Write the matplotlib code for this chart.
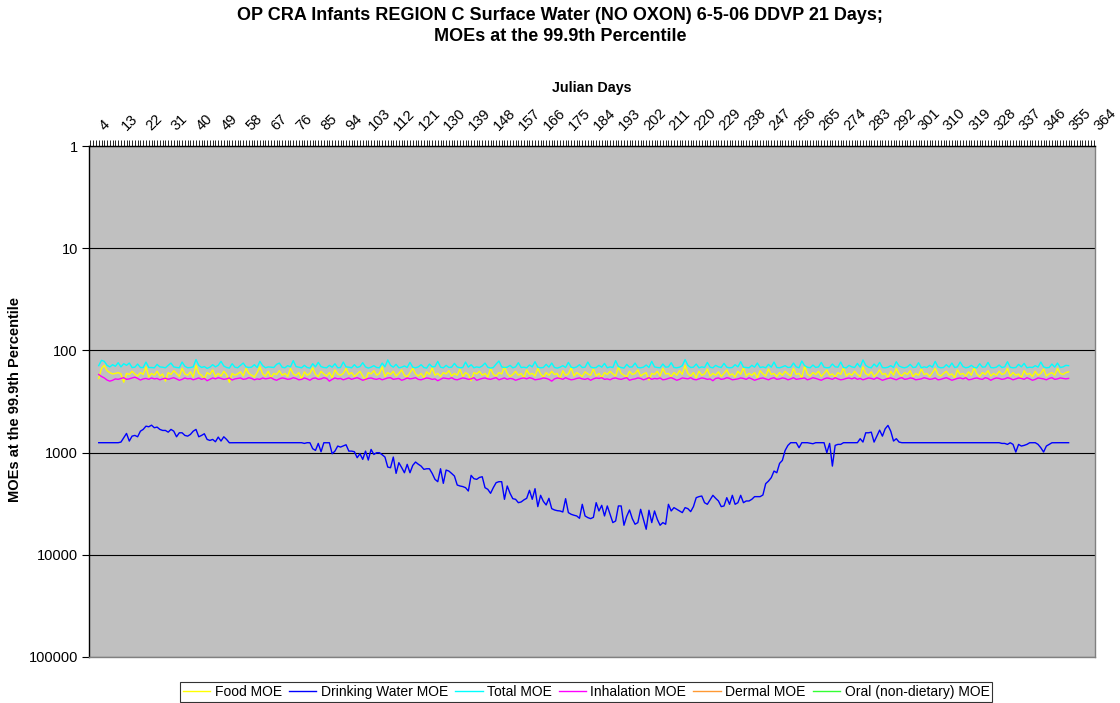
import numpy as np
import matplotlib
matplotlib.use("Agg")
import matplotlib.pyplot as plt
import matplotlib.transforms as mtransforms
from matplotlib.ticker import FixedLocator, NullLocator

plt.rcParams["font.family"] = ["Liberation Sans", "DejaVu Sans"]

# first Julian day that carries a value (series run one value per day)
FIRST_DAY = 7
TICK_DAYS = [4, 13, 22, 31, 40, 49, 58, 67, 76, 85, 94, 103, 112, 121, 130, 139,
             148, 157, 166, 175, 184, 193, 202, 211, 220, 229, 238, 247, 256, 265,
             274, 283, 292, 301, 310, 319, 328, 337, 346, 355, 364]
Y_TICKS = [1, 10, 100, 1000, 10000, 100000]
Y_TICK_LABELS = ["1", "10", "100", "1000", "10000", "100000"]

food_moe = [
    188, 150, 140, 158, 165, 170, 168, 165, 170, 205, 168, 172, 160, 170, 178, 165, 172, 145, 182, 168, 175, 160, 178, 170, 200,
    165, 172, 158, 168, 180, 150, 170, 175, 162, 182, 140, 168, 175, 190, 165, 172, 155, 180, 168, 178, 160, 172, 205, 168, 175,
    170, 162, 178, 150, 168, 175, 182, 165, 145, 170, 178, 160, 185, 168, 172, 158, 175, 168, 180, 150, 170, 176, 165, 190, 162,
    175, 168, 148, 172, 180, 160, 170, 178, 165, 185, 155, 170, 175, 168, 150, 172, 165, 180, 170, 160, 178, 195, 165, 170, 158,
    175, 168, 145, 180, 165, 172, 160, 178, 168, 155, 175, 182, 165, 150, 170, 178, 168, 185, 162, 172, 148, 175, 168, 180, 165,
    170, 158, 178, 168, 175, 152, 180, 165, 172, 198, 165, 170, 160, 175, 168, 182, 150, 172, 178, 165, 170, 145, 168, 180, 172,
    160, 175, 168, 185, 155, 172, 168, 178, 150, 170, 182, 165, 175, 160, 172, 168, 190, 158, 175, 170, 148, 178, 165, 172, 180,
    162, 170, 175, 152, 178, 168, 185, 165, 172, 160, 170, 178, 145, 168, 175, 182, 160, 172, 168, 155, 178, 170, 165, 195, 168,
    172, 160, 178, 150, 170, 168, 180, 165, 175, 158, 172, 140, 168, 178, 165, 185, 160, 175, 170, 152, 178, 168, 175, 162, 180,
    168, 155, 175, 170, 182, 160, 172, 148, 178, 168, 175, 165, 185, 158, 170, 178, 152, 172, 168, 180, 165, 175, 160, 170, 178,
    150, 172, 168, 185, 142, 170, 178, 165, 172, 160, 180, 168, 155, 175, 170, 182, 165, 172, 148, 178, 168, 175, 160, 172, 180,
    145, 168, 175, 162, 180, 170, 155, 172, 168, 185, 160, 175, 150, 170, 178, 165, 172, 158, 180, 168, 175, 152, 172, 168, 180,
    165, 150, 172, 178, 168, 160, 175, 170, 185, 155, 172, 168, 178, 162, 175, 148, 170, 180, 165, 172, 158, 178, 168, 175, 160,
    172, 168, 150, 178, 165, 175, 170, 185, 158, 172, 168, 180, 160, 175, 168, 152, 178, 170, 165, 175, 150, 168, 172, 165, 162,
]

drinking_water_moe = [
    # days 7-14, flat
    800, 800, 800, 800, 800, 800, 800, 800,
    # days 15-54
    789, 716, 649, 771, 690, 679, 700, 617, 593, 551, 559, 539, 571, 563, 593, 607, 607, 631, 593, 617,
    700, 640, 640, 679, 690, 664, 617, 593, 700, 679, 654, 743, 760, 743, 783, 705, 771, 700, 743, 801,
    # days 55-80, flat
    800, 800, 800, 800, 800, 800, 800, 800, 800, 800, 800, 800, 800,
    800, 800, 800, 800, 800, 800, 800, 800, 800, 800, 800, 800, 800,
    # days 81-215, the summer trough
    813, 800, 801, 916, 952, 813, 981, 801, 800, 801, 1026, 967, 863, 883, 860,
    838, 967, 967, 981, 1122, 1026, 1165, 967, 1183, 931, 1042, 1003, 1003, 1050, 1106,
    1385, 1406, 1106, 1597, 1255, 1400, 1574, 1303, 1574, 1334, 1237, 1300, 1355, 1459, 1439,
    1439, 1600, 1827, 1926, 1439, 1999, 1482, 1516, 1600, 1696, 2076, 2122, 2150, 2204, 2375,
    1671, 1800, 1827, 1750, 1722, 2204, 2287, 2503, 2200, 1969, 1926, 1926, 2865, 2122, 2500,
    2824, 2865, 3090, 3041, 2900, 2801, 2339, 2865, 2254, 3378, 2618, 3000, 3254, 2801, 3535,
    3641, 3700, 3724, 3811, 2824, 3866, 4014, 4100, 4168, 4393, 3206, 4168, 4327, 4426, 4300,
    3090, 3724, 3280, 4168, 3327, 4000, 4840, 4665, 3327, 3327, 5140, 4200, 3641, 4426, 5024,
    4840, 3589, 4500, 5623, 3666, 4840, 3724, 4500, 5140, 4840, 5024, 3206, 3724, 3455, 3589,
    # days 216-302, recovery
    3724, 3866, 3455, 3535, 3779, 3378, 2760, 2697, 2660, 3090, 3206, 2900, 2618, 2800, 2974,
    3378, 3327, 2760, 3206, 2618, 3206, 3090, 2618, 3090, 2974, 2974, 2865, 2697, 2700, 2697,
    2599, 2014, 1900, 1759, 1516, 1574, 1275, 1192, 952, 850, 800, 800, 800, 896, 800,
    800, 800, 810, 819, 800, 800, 800, 800, 1003, 813, 1355, 850, 831, 831, 800,
    800, 800, 800, 800, 800, 731, 789, 640, 640, 631, 789, 690, 603, 690, 585,
    542, 617, 771, 731, 789, 800, 800, 800, 800, 800, 800, 800,
    # days 303-356
    800, 800, 800, 800, 800, 800, 800, 800, 800, 800, 800, 800, 800, 800, 800,
    800, 800, 800, 800, 800, 800, 800, 800, 800, 800, 800, 800, 800, 800,
    813, 813, 831, 801, 831, 988, 831, 863, 850, 831, 801, 800, 800, 831, 896,
    988, 863, 831, 801, 800, 800, 800, 800, 800, 800,
]

total_moe = [
    141, 125, 128, 140, 145, 138, 143, 132, 145, 135, 140, 133, 147, 146, 136, 147, 147, 130, 147, 147, 148, 137, 145, 146, 148,
    140, 133, 145, 147, 148, 130, 143, 148, 147, 145, 123, 140, 147, 144, 150, 146, 138, 145, 140, 128, 142, 147, 149, 135, 146,
    148, 140, 133, 145, 147, 146, 138, 147, 128, 141, 148, 145, 146, 147, 137, 133, 146, 148, 141, 145, 126, 144, 146, 148, 140,
    147, 149, 135, 145, 131, 144, 147, 148, 140, 146, 135, 148, 147, 130, 145, 146, 148, 138, 147, 144, 132, 145, 149, 146, 141,
    147, 148, 133, 145, 124, 140, 146, 137, 148, 146, 142, 147, 131, 146, 148, 145, 138, 147, 149, 136, 145, 144, 128, 146, 148,
    140, 147, 146, 134, 145, 148, 147, 130, 146, 138, 148, 145, 147, 142, 133, 146, 149, 147, 136, 127, 145, 147, 146, 140, 148,
    145, 132, 147, 146, 148, 139, 145, 129, 146, 148, 147, 137, 146, 133, 147, 149, 146, 141, 147, 131, 146, 148, 145, 138, 147,
    146, 130, 145, 148, 147, 140, 146, 134, 148, 145, 147, 126, 144, 147, 149, 137, 146, 145, 133, 147, 148, 146, 139, 147, 128,
    145, 147, 148, 136, 146, 145, 132, 147, 148, 146, 141, 123, 140, 147, 146, 136, 148, 145, 147, 131, 146, 148, 140, 145, 147,
    134, 146, 148, 147, 138, 145, 129, 146, 147, 148, 140, 146, 133, 147, 145, 148, 137, 146, 130, 147, 148, 145, 141, 147, 146,
    133, 145, 148, 127, 141, 146, 148, 139, 147, 145, 131, 146, 148, 147, 136, 145, 146, 130, 147, 148, 140, 145, 147, 134, 146,
    124, 140, 146, 148, 136, 145, 131, 147, 148, 146, 141, 147, 129, 142, 146, 148, 145, 137, 147, 146, 132, 148, 145, 147, 140,
    146, 128, 145, 148, 147, 138, 146, 133, 147, 145, 130, 144, 148, 146, 140, 147, 148, 135, 146, 145, 131, 147, 148, 146, 139,
    147, 145, 129, 146, 148, 147, 137, 145, 134, 148, 146, 147, 141, 146, 130, 145, 148, 147, 136, 146, 133, 147, 145, 140, 141,
]

inhalation_moe = [
    172, 180, 186, 195, 200, 196, 190, 192, 188, 185, 192, 190, 186, 183, 188, 195, 190, 188, 192, 186, 190, 188, 194, 190, 187,
    192, 188, 185, 190, 196, 192, 186, 190, 188, 194, 190, 186, 192, 188, 198, 192, 186, 190, 185, 188, 192, 190, 186, 195, 190,
    188, 186, 192, 190, 185, 188, 194, 190, 192, 186, 190, 188, 185, 192, 196, 190, 186, 188, 192, 190, 185, 188, 194, 192, 186,
    190, 196, 188, 186, 192, 190, 185, 188, 200, 192, 186, 190, 188, 194, 190, 186, 192, 188, 185, 190, 196, 192, 188, 186, 190,
    192, 188, 194, 190, 186, 185, 192, 190, 188, 196, 192, 186, 190, 188, 185, 192, 194, 190, 186, 188, 192, 190, 198, 192, 186,
    188, 190, 185, 192, 194, 190, 186, 188, 192, 190, 185, 196, 192, 188, 186, 190, 192, 188, 185, 194, 190, 186, 192, 188, 190,
    196, 192, 188, 186, 190, 185, 188, 194, 192, 190, 186, 188, 192, 200, 190, 186, 188, 192, 185, 190, 194, 192, 188, 186, 190,
    192, 188, 196, 190, 186, 188, 185, 192, 190, 194, 188, 186, 190, 192, 188, 185, 196, 192, 190, 186, 188, 194, 190, 185, 192,
    188, 190, 186, 194, 192, 188, 185, 190, 196, 192, 186, 188, 190, 185, 192, 194, 190, 186, 188, 192, 190, 198, 188, 186, 192,
    190, 185, 188, 194, 192, 190, 186, 188, 192, 185, 190, 196, 192, 188, 186, 190, 194, 188, 185, 192, 190, 186, 188, 194, 190,
    185, 192, 190, 188, 186, 194, 190, 185, 188, 192, 196, 190, 186, 188, 192, 185, 190, 194, 192, 188, 186, 190, 185, 192, 188,
    194, 190, 186, 188, 192, 185, 190, 196, 192, 188, 186, 190, 194, 188, 185, 192, 190, 186, 188, 194, 192, 190, 185, 188, 192,
    190, 186, 194, 192, 188, 185, 190, 196, 192, 188, 186, 190, 185, 194, 192, 188, 186, 190, 192, 185, 188, 196, 190, 186, 188,
    192, 190, 185, 188, 194, 190, 186, 188, 192, 185, 190, 196, 192, 186, 188, 190, 194, 188, 185, 192, 190, 186, 188, 190, 188,
]

# Dermal and Oral (non-dietary) MOEs draw nothing inside the plotted range
dermal_moe = []
oral_moe = []

SERIES = [
    ("Food MOE", food_moe, "#FFFF00"),
    ("Drinking Water MOE", drinking_water_moe, "#0000FF"),
    ("Total MOE", total_moe, "#00FFFF"),
    ("Inhalation MOE", inhalation_moe, "#FF00FF"),
    ("Dermal MOE", dermal_moe, "#FF9933"),
    ("Oral (non-dietary) MOE", oral_moe, "#33FF33"),
]

W, H = 1120, 703
fig = plt.figure(figsize=(W / 100, H / 100), dpi=100)
ax = fig.add_axes([89 / W, 1 - 657 / H, (1095 - 89) / W, (657 - 146) / H])
ax.set_facecolor("#C0C0C0")

for name, vals, color in SERIES:
    x = FIRST_DAY + np.arange(len(vals))
    ax.plot(x, vals, color=color, lw=1.0, label=name)

# log y, 1 at the top
ax.set_yscale("log")
ax.set_ylim(100000, 1)
ax.yaxis.set_major_locator(FixedLocator(Y_TICKS))
ax.yaxis.set_minor_locator(NullLocator())
ax.set_yticklabels(Y_TICK_LABELS)
ax.grid(axis="y", which="major", color="black", lw=0.8)
ax.set_axisbelow(True)
ax.tick_params(axis="y", length=5, width=0.8, labelsize=10.5, pad=3)

# category axis on top, one tick per day
ax.xaxis.tick_top()
ax.set_xlim(3.5, 365.5)
ax.set_xticks(TICK_DAYS)
ax.set_xticklabels([str(d) for d in TICK_DAYS], rotation=45, ha="center", va="bottom")
ax.set_xticks(np.arange(4, 366), minor=True)
ax.tick_params(axis="x", which="both", direction="out", length=4, width=0.6,
               labelsize=10.5, pad=5)
offset = mtransforms.ScaledTranslation(14 / 100, 0, fig.dpi_scale_trans)
for lbl in ax.get_xticklabels():
    lbl.set_transform(lbl.get_transform() + offset)

for side in ("top", "left"):
    ax.spines[side].set_color("black")
    ax.spines[side].set_linewidth(1.0)
for side in ("bottom", "right"):
    ax.spines[side].set_color("#808080")
    ax.spines[side].set_linewidth(1.0)

fig.text(0.5, 1 - 26 / H,
         "OP CRA Infants REGION C Surface Water (NO OXON) 6-5-06 DDVP 21 Days;\n"
         "MOEs at the 99.9th Percentile",
         ha="center", va="center", fontsize=13, fontweight="bold", linespacing=1.3)
fig.text(592 / W, 1 - 88 / H, "Julian Days", ha="center", va="center",
         fontsize=10.3, fontweight="bold")
fig.text(15 / W, 1 - 400 / H, "MOEs at the 99.9th Percentile", ha="center",
         va="center", rotation=90, fontsize=10.5, fontweight="bold")

leg = fig.legend(loc="center", bbox_to_anchor=(586 / W, 1 - 692 / H), ncol=6,
                 fontsize=10, frameon=True, fancybox=False, edgecolor="black",
                 handlelength=2.0, handletextpad=0.3, columnspacing=0.5,
                 borderpad=0.2, borderaxespad=0)
leg.get_frame().set_linewidth(0.8)

fig.savefig("out.png", dpi=100)
